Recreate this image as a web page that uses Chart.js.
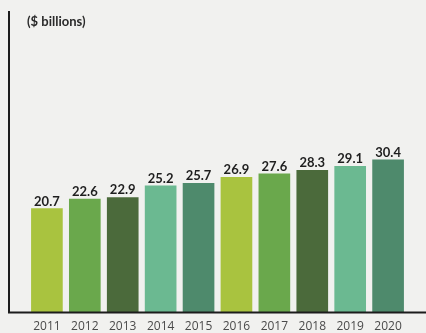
<!DOCTYPE html>
<html>
<head>
<meta charset="utf-8">
<script src="https://cdn.jsdelivr.net/npm/chart.js@4/dist/chart.umd.min.js"></script>
<style>
  html, body { margin: 0; padding: 0; background: #f1f1ef; }
  #wrap { width: 426px; height: 333px; position: relative; }
</style>
</head>
<body>
<div id="wrap"><canvas id="myChart"></canvas></div>
<script>
/* globals Chart:false */

// yearly totals, $ billions
var years = [2011, 2012, 2013, 2014, 2015, 2016, 2017, 2018, 2019, 2020];
var totals = [20.7, 22.6, 22.9, 25.2, 25.7, 26.9, 27.6, 28.3, 29.1, 30.4];
var palette = ['#a9c33f', '#6aa84c', '#4b6a3b', '#6bb991', '#4e8a6c'];
var unitLabel = '($ billions)';

// left + bottom axis lines, unit caption, value labels over bars
var decorations = {
  id: 'decorations',
  afterDatasetsDraw: function (chart) {
    var ctx = chart.ctx;
    var area = chart.chartArea;
    ctx.save();
    ctx.strokeStyle = '#1c1c1c';
    ctx.lineWidth = 2;
    ctx.beginPath();
    ctx.moveTo(area.left, area.top);
    ctx.lineTo(area.left, area.bottom);
    ctx.lineTo(area.right, area.bottom);
    ctx.stroke();

    ctx.fillStyle = '#2a2a2a';
    ctx.font = 'bold 13px Lato';
    ctx.textAlign = 'left';
    ctx.textBaseline = 'alphabetic';
    ctx.fillText(unitLabel, area.left + 18, area.top + 15);

    ctx.fillStyle = '#1e1e1e';
    ctx.font = 'bold 13px Lato';
    ctx.textAlign = 'center';
    chart.getDatasetMeta(0).data.forEach(function (bar, i) {
      ctx.fillText(totals[i].toFixed(1), bar.x, bar.y - 3);
    });
    ctx.restore();
  }
};

var ctx = document.getElementById('myChart');
var myChart = new Chart(ctx, {
  type: 'bar',
  data: {
    datasets: [{
      data: years.map(function (y, i) { return { x: y, y: totals[i] }; }),
      backgroundColor: years.map(function (y, i) { return palette[i % palette.length]; }),
      borderWidth: 0,
      barThickness: 31
    }]
  },
  options: {
    responsive: true,
    maintainAspectRatio: false,
    animation: false,
    layout: { padding: { left: 9, right: 0, top: 11, bottom: -8 } },
    scales: {
      x: {
        type: 'linear',
        offset: false,
        min: 2010,
        max: 2021,
        grid: { display: false, drawTicks: false, tickLength: 0 },
        border: { display: false },
        afterBuildTicks: function (axis) {
          axis.ticks = years.map(function (y) { return { value: y }; });
        },
        ticks: {
          padding: 7,
          color: '#4a4a4a',
          font: { family: 'Open Sans', size: 12 },
          maxRotation: 0,
          autoSkip: false,
          callback: function (val) { return String(val); }
        }
      },
      y: {
        display: false,
        min: 0,
        max: 60
      }
    },
    plugins: {
      legend: { display: false },
      tooltip: { enabled: false }
    }
  },
  plugins: [decorations]
});
</script>
</body>
</html>
